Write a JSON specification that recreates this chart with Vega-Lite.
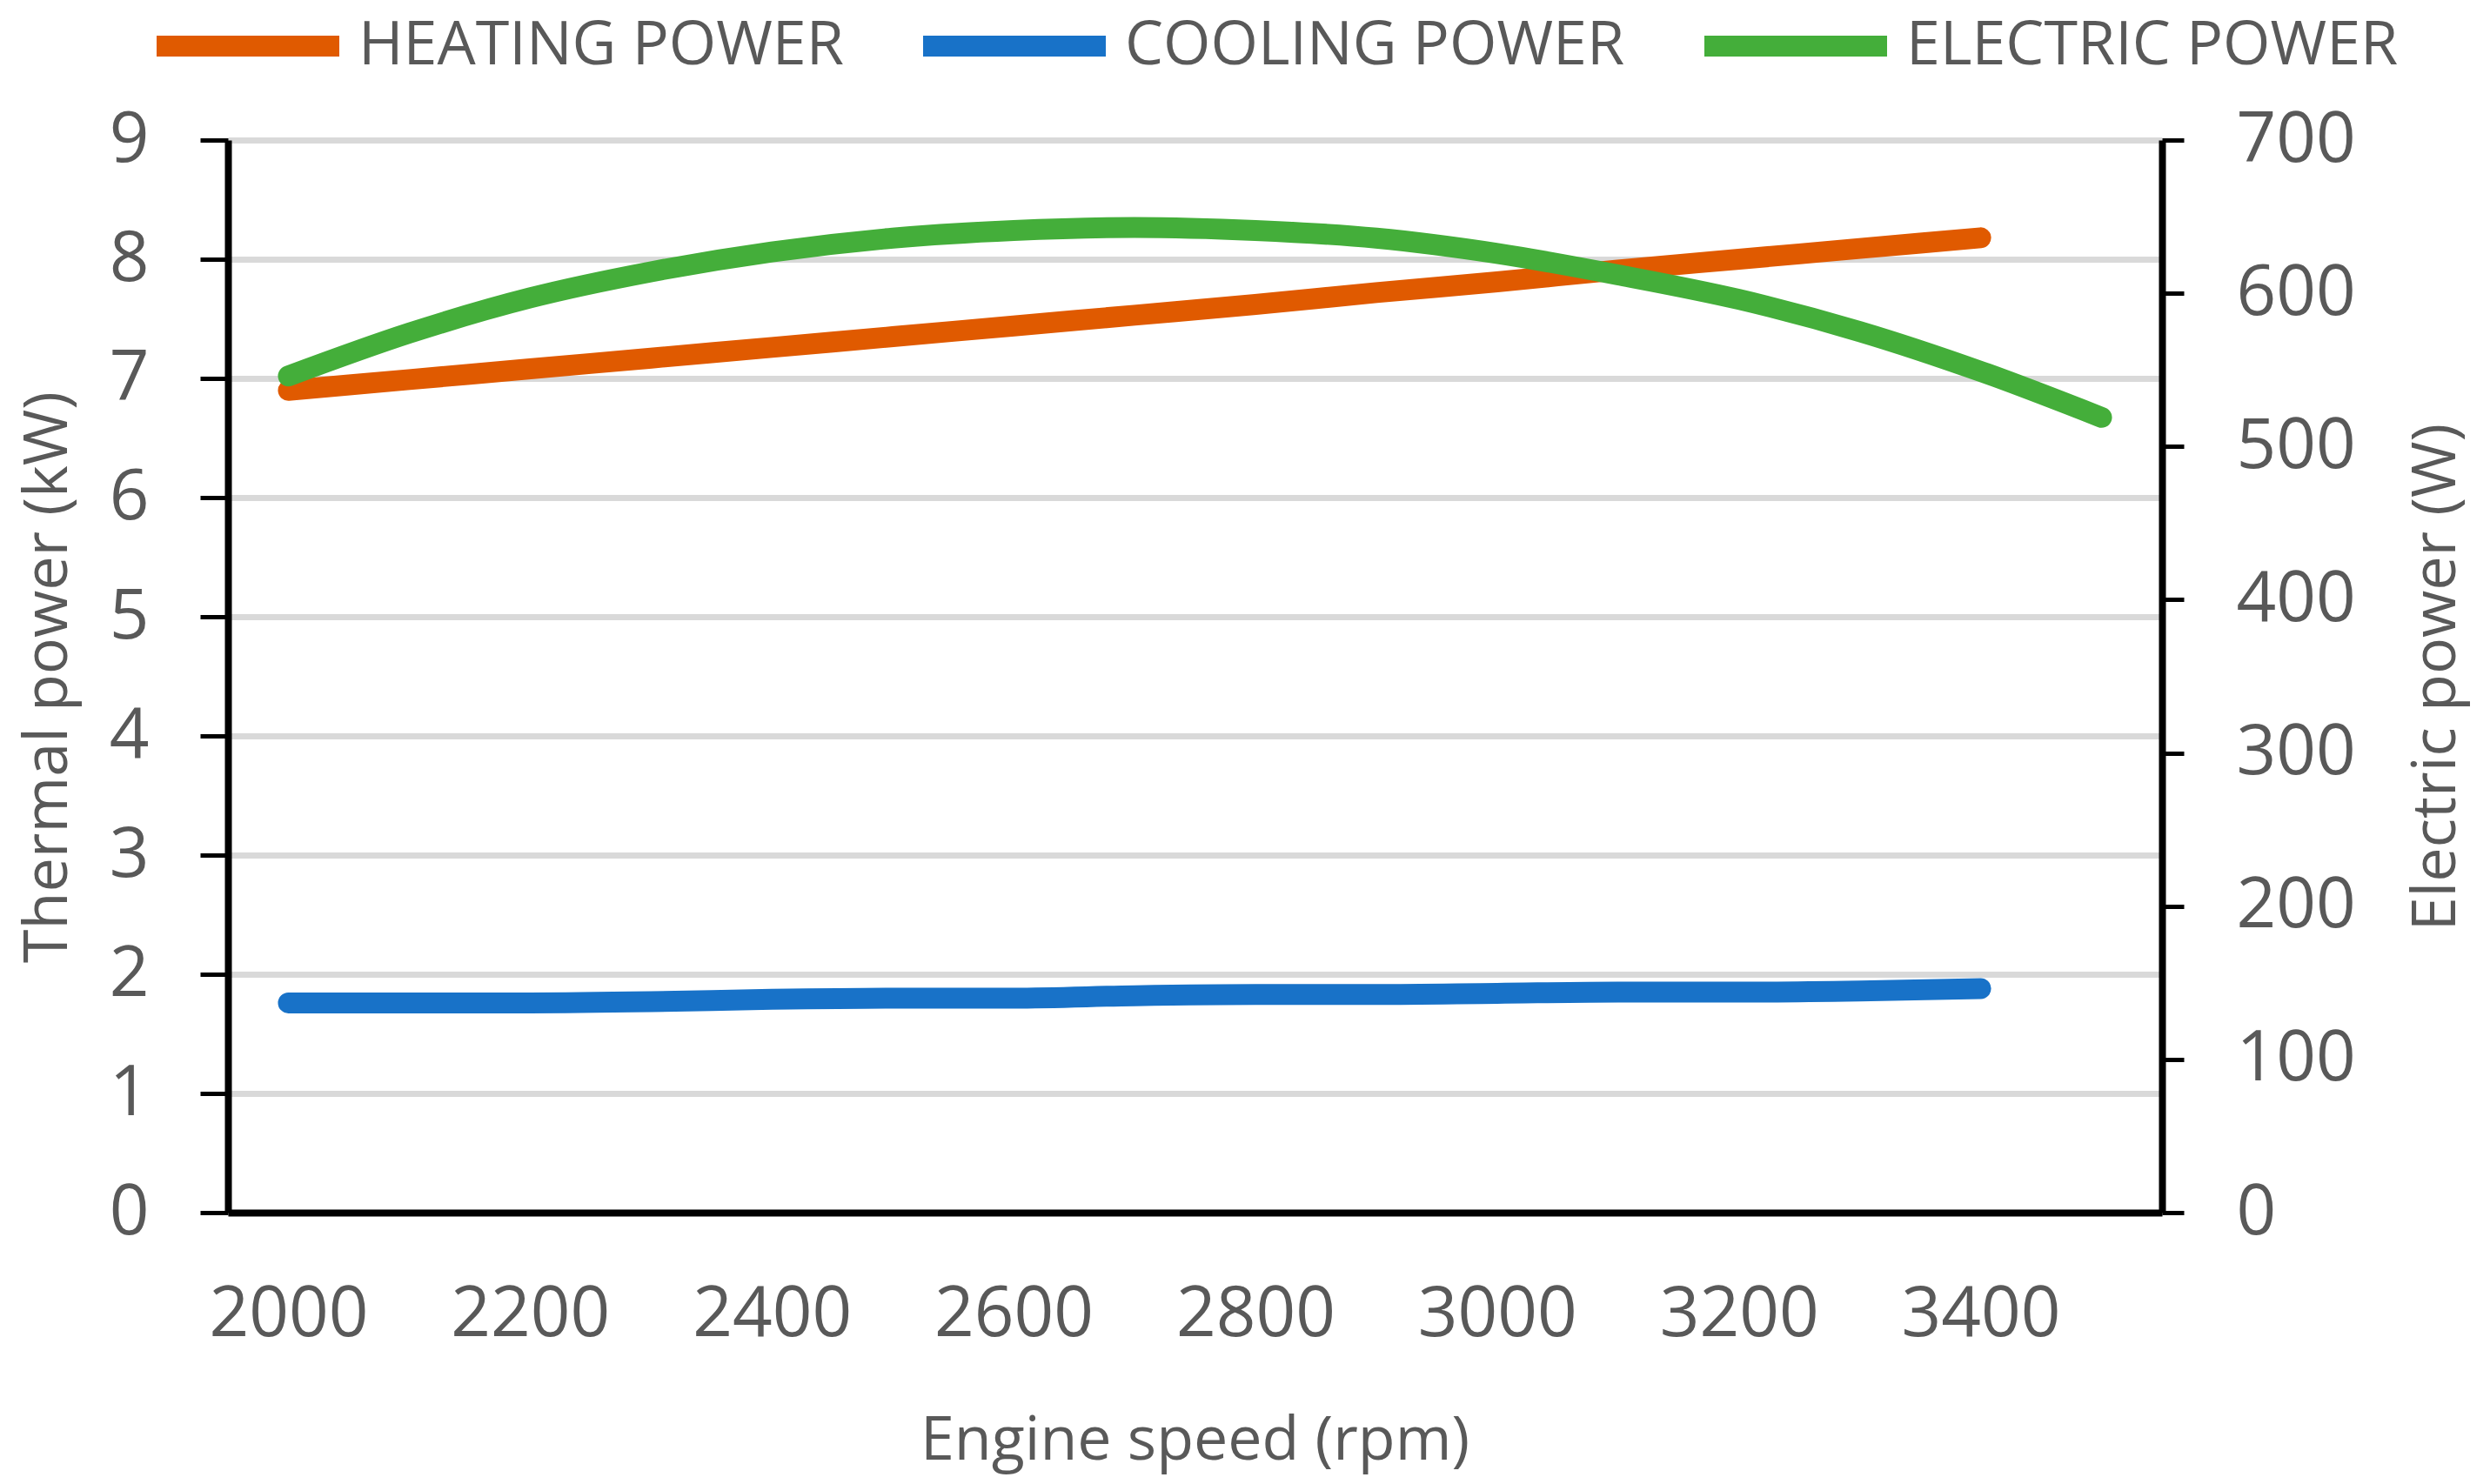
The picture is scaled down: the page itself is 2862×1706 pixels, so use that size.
{
  "$schema": "https://vega.github.io/schema/vega-lite/v6.json",
  "width": 2223,
  "height": 1233,
  "autosize": {"type": "none"},
  "padding": {"left": 262, "top": 161, "right": 377, "bottom": 312},
  "background": "white",
  "config": {
    "view": {"stroke": null},
    "font": "Open Sans",
    "axis": {"labelFont": "Open Sans", "titleFont": "Open Sans", "labelColor": "#595959", "titleColor": "#595959", "titleFontWeight": "normal", "labelFontSize": 80, "titleFontSize": 70}
  },
  "data": {
    "values": [
      {"rpm": 2000, "series": "HEATING POWER", "value": 6.90},
      {"rpm": 2100, "series": "HEATING POWER", "value": 6.99},
      {"rpm": 2200, "series": "HEATING POWER", "value": 7.08},
      {"rpm": 2300, "series": "HEATING POWER", "value": 7.17},
      {"rpm": 2400, "series": "HEATING POWER", "value": 7.26},
      {"rpm": 2500, "series": "HEATING POWER", "value": 7.35},
      {"rpm": 2600, "series": "HEATING POWER", "value": 7.44},
      {"rpm": 2700, "series": "HEATING POWER", "value": 7.53},
      {"rpm": 2800, "series": "HEATING POWER", "value": 7.62},
      {"rpm": 2900, "series": "HEATING POWER", "value": 7.72},
      {"rpm": 3000, "series": "HEATING POWER", "value": 7.81},
      {"rpm": 3100, "series": "HEATING POWER", "value": 7.91},
      {"rpm": 3200, "series": "HEATING POWER", "value": 8.00},
      {"rpm": 3300, "series": "HEATING POWER", "value": 8.09},
      {"rpm": 3400, "series": "HEATING POWER", "value": 8.18},
      {"rpm": 2000, "series": "COOLING POWER", "value": 1.76},
      {"rpm": 2100, "series": "COOLING POWER", "value": 1.76},
      {"rpm": 2200, "series": "COOLING POWER", "value": 1.76},
      {"rpm": 2300, "series": "COOLING POWER", "value": 1.77},
      {"rpm": 2400, "series": "COOLING POWER", "value": 1.79},
      {"rpm": 2500, "series": "COOLING POWER", "value": 1.80},
      {"rpm": 2600, "series": "COOLING POWER", "value": 1.80},
      {"rpm": 2700, "series": "COOLING POWER", "value": 1.82},
      {"rpm": 2800, "series": "COOLING POWER", "value": 1.83},
      {"rpm": 2900, "series": "COOLING POWER", "value": 1.83},
      {"rpm": 3000, "series": "COOLING POWER", "value": 1.84},
      {"rpm": 3100, "series": "COOLING POWER", "value": 1.85},
      {"rpm": 3200, "series": "COOLING POWER", "value": 1.85},
      {"rpm": 3300, "series": "COOLING POWER", "value": 1.86},
      {"rpm": 3400, "series": "COOLING POWER", "value": 1.88},
      {"rpm": 2000, "series": "ELECTRIC POWER", "value": 546},
      {"rpm": 2100, "series": "ELECTRIC POWER", "value": 574},
      {"rpm": 2200, "series": "ELECTRIC POWER", "value": 597},
      {"rpm": 2300, "series": "ELECTRIC POWER", "value": 614},
      {"rpm": 2400, "series": "ELECTRIC POWER", "value": 627},
      {"rpm": 2500, "series": "ELECTRIC POWER", "value": 636},
      {"rpm": 2600, "series": "ELECTRIC POWER", "value": 641},
      {"rpm": 2700, "series": "ELECTRIC POWER", "value": 643},
      {"rpm": 2800, "series": "ELECTRIC POWER", "value": 641},
      {"rpm": 2900, "series": "ELECTRIC POWER", "value": 636},
      {"rpm": 3000, "series": "ELECTRIC POWER", "value": 626},
      {"rpm": 3100, "series": "ELECTRIC POWER", "value": 612},
      {"rpm": 3200, "series": "ELECTRIC POWER", "value": 596},
      {"rpm": 3300, "series": "ELECTRIC POWER", "value": 575},
      {"rpm": 3400, "series": "ELECTRIC POWER", "value": 549},
      {"rpm": 3500, "series": "ELECTRIC POWER", "value": 519}
    ]
  },
  "encoding": {
    "x": {
      "field": "rpm", "type": "quantitative",
      "scale": {"domain": [1950, 3550], "nice": false, "zero": false},
      "axis": {
        "values": [2000, 2200, 2400, 2600, 2800, 3000, 3200, 3400],
        "format": "d", "labelLimit": 1000,
        "title": "Engine speed (rpm)",
        "ticks": false, "grid": false,
        "domainColor": "black", "domainWidth": 8,
        "labelPadding": 78, "labelBaseline": "top",
        "titleX": 1111, "titleY": 262, "titleBaseline": "middle", "titleAlign": "center"
      }
    },
    "color": {
      "field": "series", "type": "nominal",
      "scale": {"domain": ["HEATING POWER", "COOLING POWER", "ELECTRIC POWER"], "range": ["#E05A00", "#1872C8", "#44AE3A"]},
      "legend": {
        "title": null, "orient": "none", "direction": "horizontal",
        "legendX": -94, "legendY": -225,
        "symbolType": "stroke", "symbolStrokeWidth": 24, "symbolSize": 44100,
        "labelFont": "Open Sans", "labelFontSize": 70, "labelColor": "#595959",
        "labelOffset": 10, "labelLimit": 1000, "columnPadding": 43
      }
    }
  },
  "layer": [
    {
      "transform": [{"filter": "datum.series !== 'ELECTRIC POWER'"}],
      "mark": {"type": "line", "strokeWidth": 24, "strokeCap": "round", "strokeJoin": "round", "interpolate": "monotone"},
      "encoding": {
        "y": {
          "field": "value", "type": "quantitative",
          "scale": {"domain": [0, 9], "nice": false},
          "axis": {
            "orient": "left",
            "values": [0, 1, 2, 3, 4, 5, 6, 7, 8, 9],
            "title": "Thermal power (kW)",
            "grid": true, "gridColor": "#D9D9D9", "gridWidth": 7,
            "domainColor": "black", "domainWidth": 8,
            "tickColor": "black", "tickWidth": 5, "tickSize": 32,
            "labelPadding": 59,
            "titleAngle": -90, "titleX": -207, "titleY": 617, "titleBaseline": "middle", "titleAlign": "center"
          }
        }
      }
    },
    {
      "transform": [{"filter": "datum.series === 'ELECTRIC POWER'"}],
      "mark": {"type": "line", "strokeWidth": 24, "strokeCap": "round", "strokeJoin": "round", "interpolate": "cardinal"},
      "encoding": {
        "y": {
          "field": "value", "type": "quantitative",
          "scale": {"domain": [0, 700], "nice": false},
          "axis": {
            "orient": "right",
            "values": [0, 100, 200, 300, 400, 500, 600, 700],
            "title": "Electric power (W)",
            "grid": false,
            "domainColor": "black", "domainWidth": 8,
            "tickColor": "black", "tickWidth": 5, "tickSize": 25,
            "labelPadding": 60,
            "titleAngle": -90, "titleX": 315, "titleY": 617, "titleBaseline": "middle", "titleAlign": "center"
          }
        }
      }
    }
  ],
  "resolve": {"scale": {"y": "independent"}}
}
